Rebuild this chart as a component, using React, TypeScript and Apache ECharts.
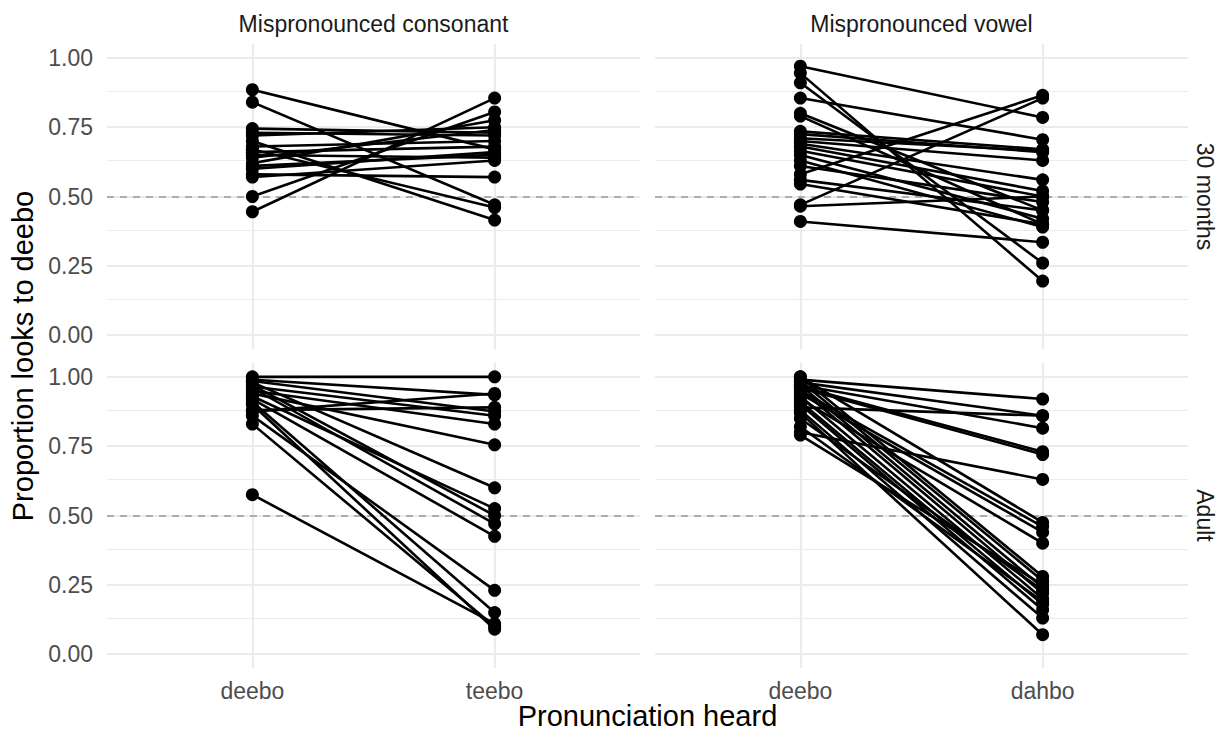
import React, { useEffect, useRef } from "react";
import * as echarts from "echarts";

// ---- data ----
const consonantLabels = ["deebo", "teebo"];
const vowelLabels = ["deebo", "dahbo"];
const yTicks = [0, 0.25, 0.5, 0.75, 1];
const yMinor = [0.125, 0.375, 0.625, 0.875];
const stripTop = ["Mispronounced consonant", "Mispronounced vowel"];
const stripRight = ["30 months", "Adult"];

// 30 months, mispronounced consonant
const childConsDeebo = [0.885, 0.84, 0.745, 0.73, 0.72, 0.70, 0.68, 0.67, 0.66, 0.65, 0.64, 0.62, 0.61, 0.60, 0.58, 0.57, 0.50, 0.445];
const childConsTeebo = [0.67, 0.47, 0.73, 0.72, 0.75, 0.415, 0.70, 0.46, 0.68, 0.64, 0.74, 0.775, 0.65, 0.66, 0.57, 0.63, 0.805, 0.855];

// 30 months, mispronounced vowel
const childVowDeebo = [0.97, 0.945, 0.91, 0.855, 0.80, 0.79, 0.735, 0.725, 0.71, 0.70, 0.69, 0.68, 0.665, 0.65, 0.63, 0.61, 0.58, 0.56, 0.545, 0.47, 0.465, 0.41];
const childVowDahbo = [0.785, 0.195, 0.26, 0.705, 0.45, 0.40, 0.67, 0.66, 0.665, 0.63, 0.56, 0.52, 0.50, 0.42, 0.39, 0.48, 0.865, 0.45, 0.40, 0.855, 0.50, 0.335];

// Adult, mispronounced consonant
const adultConsDeebo = [1.0, 0.99, 0.985, 0.98, 0.97, 0.965, 0.96, 0.95, 0.94, 0.93, 0.92, 0.91, 0.90, 0.88, 0.875, 0.86, 0.83, 0.575];
const adultConsTeebo = [1.0, 0.935, 0.875, 0.60, 0.50, 0.86, 0.47, 0.83, 0.755, 0.525, 0.425, 0.15, 0.09, 0.89, 0.94, 0.23, 0.10, 0.11];

// Adult, mispronounced vowel
const adultVowDeebo = [0.99, 0.98, 0.97, 0.965, 0.96, 0.89, 1.0, 0.95, 0.94, 0.92, 1.0, 0.985, 0.97, 0.955, 0.93, 0.91, 0.90, 0.88, 0.87, 0.85, 0.82, 0.79, 0.80];
const adultVowDahbo = [0.92, 0.86, 0.815, 0.73, 0.72, 0.86, 0.475, 0.46, 0.44, 0.40, 0.28, 0.265, 0.24, 0.22, 0.20, 0.18, 0.16, 0.13, 0.07, 0.23, 0.19, 0.25, 0.63];

const FONT = "'Liberation Sans', Arial, Helvetica, sans-serif";

export default function App() {
  const ref = useRef<HTMLDivElement>(null);
  useEffect(() => {
    if (!ref.current) return;
    const chart = echarts.init(ref.current, undefined, { renderer: "svg" });

    const gridL = [107, 655];
    const gridT = [44, 363];
    const gridW = 533;
    const gridH = 305;

    const panels = [
      { col: 0, row: 0, a: childConsDeebo, b: childConsTeebo, labels: consonantLabels },
      { col: 1, row: 0, a: childVowDeebo, b: childVowDahbo, labels: vowelLabels },
      { col: 0, row: 1, a: adultConsDeebo, b: adultConsTeebo, labels: consonantLabels },
      { col: 1, row: 1, a: adultVowDeebo, b: adultVowDahbo, labels: vowelLabels },
    ];

    const grids: any[] = [];
    const xAxes: any[] = [];
    const yAxes: any[] = [];
    const series: any[] = [];

    panels.forEach((p, i) => {
      grids.push({ left: gridL[p.col], top: gridT[p.row], width: gridW, height: gridH, containLabel: false });
      xAxes.push({
        type: "value",
        gridIndex: i,
        min: -0.6,
        max: 1.6,
        axisLine: { show: false },
        axisTick: { show: false, customValues: [0, 1] },
        splitLine: { show: false },
        axisLabel: {
          show: p.row === 1,
          customValues: [0, 1],
          formatter: (v: number) => p.labels[Math.round(v)] ?? "",
          color: "#4D4D4D",
          fontSize: 23,
          fontFamily: FONT,
          margin: 11,
        },
      });
      yAxes.push({
        type: "value",
        gridIndex: i,
        min: -0.05,
        max: 1.05,
        axisLine: { show: false },
        axisTick: { show: false, customValues: yTicks },
        splitLine: { show: false },
        axisLabel: {
          show: p.col === 0,
          customValues: yTicks,
          formatter: (v: number) => v.toFixed(2),
          color: "#4D4D4D",
          fontSize: 23,
          fontFamily: FONT,
          margin: 14,
        },
      });

      const major = { color: "#EBEBEB", width: 2.2, type: "solid" };
      const minor = { color: "#EBEBEB", width: 1.1, type: "solid" };
      series.push({
        type: "line",
        xAxisIndex: i,
        yAxisIndex: i,
        data: p.a.map((v) => [0, v]),
        symbol: "none",
        lineStyle: { opacity: 0 },
        silent: true,
        z: 1,
        markLine: {
          silent: true,
          symbol: ["none", "none"],
          label: { show: false },
          z: 1,
          data: [
            ...yMinor.map((v) => ({ yAxis: v, lineStyle: minor })),
            ...yTicks.map((v) => ({ yAxis: v, lineStyle: major })),
            { xAxis: 0, lineStyle: major },
            { xAxis: 1, lineStyle: major },
            { yAxis: 0.5, lineStyle: { color: "#ADADAD", width: 2, type: [7, 6] } },
          ],
        },
      });

      p.a.forEach((va, k) => {
        series.push({
          type: "line",
          xAxisIndex: i,
          yAxisIndex: i,
          data: [
            [0, va],
            [1, p.b[k]],
          ],
          symbol: "circle",
          symbolSize: 13,
          showAllSymbol: true,
          lineStyle: { color: "#000", width: 2.6 },
          itemStyle: { color: "#000" },
          silent: true,
          z: 3,
        });
      });
    });

    const graphic: any[] = [];
    stripTop.forEach((t, c) => {
      graphic.push({
        type: "text",
        x: gridL[c] + gridW / 2,
        y: 24,
        style: { text: t, fill: "#1A1A1A", font: `23px ${FONT}`, textAlign: "center", textVerticalAlign: "middle" },
      });
    });
    stripRight.forEach((t, r) => {
      graphic.push({
        type: "text",
        x: 1205,
        y: gridT[r] + gridH / 2,
        rotation: -Math.PI / 2,
        style: { text: t, fill: "#1A1A1A", font: `23px ${FONT}`, textAlign: "center", textVerticalAlign: "middle" },
      });
    });
    graphic.push({
      type: "text",
      x: (gridL[0] + gridL[1] + gridW) / 2,
      y: 716,
      style: { text: "Pronunciation heard", fill: "#000", font: `29px ${FONT}`, textAlign: "center", textVerticalAlign: "middle" },
    });
    graphic.push({
      type: "text",
      x: 23,
      y: (gridT[0] + gridT[1] + gridH) / 2,
      rotation: Math.PI / 2,
      style: { text: "Proportion looks to deebo", fill: "#000", font: `29px ${FONT}`, textAlign: "center", textVerticalAlign: "middle" },
    });

    chart.setOption({
      animation: false,
      backgroundColor: "#FFFFFF",
      grid: grids,
      xAxis: xAxes,
      yAxis: yAxes,
      series,
      graphic,
    });
    return () => chart.dispose();
  }, []);
  return <div ref={ref} style={{ position: "fixed", left: 0, top: 0, width: 1225, height: 735 }} />;
}
